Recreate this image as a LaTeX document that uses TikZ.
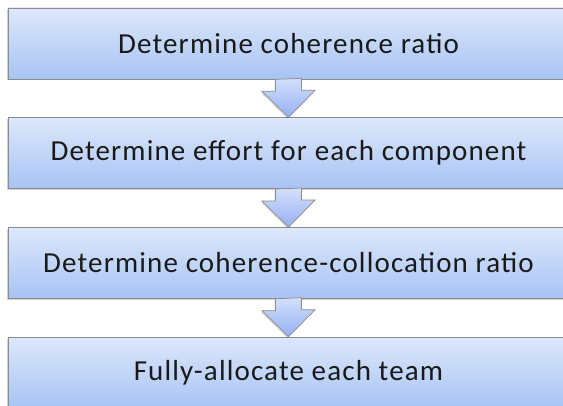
\documentclass[tikz,border=0pt]{standalone}
\usepackage{fontspec}
\setmainfont{Carlito}
\usetikzlibrary{positioning,calc,shadows}

\definecolor{boxtop}{HTML}{DDE8FB}
\definecolor{boxbot}{HTML}{A7C3F4}
\definecolor{edgegray}{HTML}{8C8C8C}

\tikzset{
    stepbox/.style={draw=edgegray, line width=0.7pt, top color=boxtop, bottom color=boxbot,
        minimum width=561pt, minimum height=71pt, inner sep=0pt,
        font=\fontsize{29}{34}\selectfont\addfontfeature{LetterSpace=4}, text=black!90,
        drop shadow={shadow xshift=-1pt, shadow yshift=-1.5pt, opacity=0.3, fill=black!60}},
    flowarrow/.style={draw=edgegray, line width=0.7pt, top color=boxtop!80!boxbot, bottom color=boxbot!90!blue,
        drop shadow={shadow xshift=-1pt, shadow yshift=-1.5pt, opacity=0.25, fill=black!60}}
}

\begin{document}
\begin{tikzpicture}[x=1pt,y=1pt]
    \useasboundingbox (0,0) rectangle (563,-406);

    \node[stepbox] (coh) at (288.5,-43.5) {Determine coherence ratio};
    \node[stepbox, below=38pt of coh] (eff) {Determine effort for each component};
    \node[stepbox, below=38pt of eff] (col) {Determine coherence-collocation ratio};
    \node[stepbox, below=38pt of col] (alloc) {Fully-allocate each team};

    % block arrows between steps
    \foreach \a/\b in {coh/eff,eff/col,col/alloc}
        \draw[flowarrow] ($(\a.south)+(-13,0)$) -- ++(0,-12) -- ++(-13.5,0) -- (\b.north)
            -- ++(26.5,27) -- ++(-13.5,0) -- ++(0,12) -- cycle;
\end{tikzpicture}
\end{document}
